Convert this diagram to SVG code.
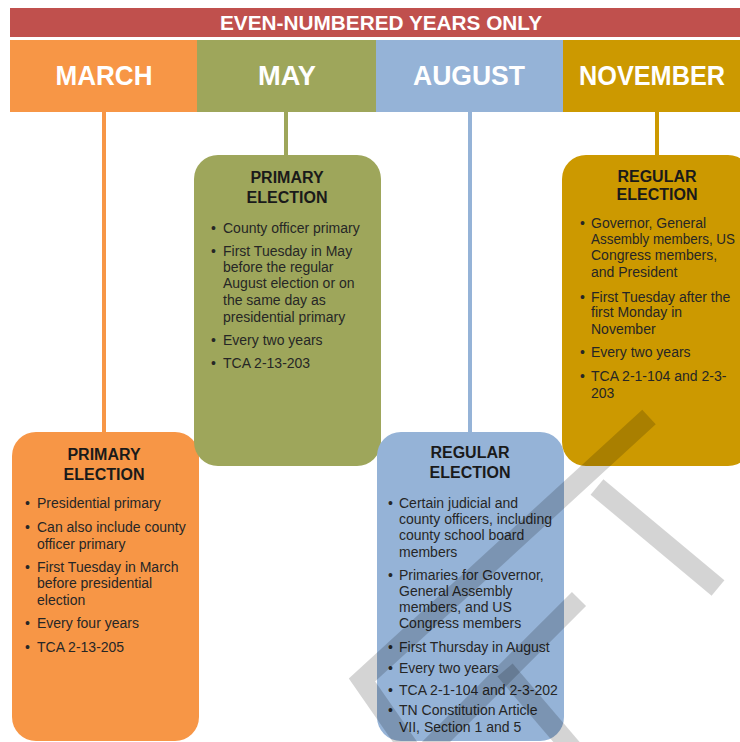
<svg xmlns="http://www.w3.org/2000/svg" width="740" height="742" viewBox="0 0 740 742">
<style>
.mon{font-family:"Liberation Sans",Arial,sans-serif;font-weight:bold;font-size:28px;fill:#fff;text-anchor:middle}
.hdr{font-family:"Liberation Sans",Arial,sans-serif;font-weight:bold;font-size:20px;fill:#fff;text-anchor:middle}
.ttl{font-family:"Liberation Sans",Arial,sans-serif;font-weight:bold;font-size:16px;fill:#1a1a1a;text-anchor:middle}
.txt{font-family:"Liberation Sans",Arial,sans-serif;font-size:14px;fill:#262626}
.conn{stroke-width:4;fill:none}
.wm{fill:none;stroke:#000;stroke-opacity:0.17;stroke-width:20;stroke-linecap:butt;stroke-linejoin:miter}
</style>
<rect width="740" height="742" fill="#fff"/>
<g id="header">
<rect x="10" y="8" width="730" height="29" fill="#c0504d"/>
<text class="hdr" x="381" y="30" textLength="322" lengthAdjust="spacingAndGlyphs">EVEN-NUMBERED YEARS ONLY</text>
</g>
<g id="month-march"><rect x="10" y="40" width="187" height="72" fill="#f79646"/><text class="mon" x="104" y="85" textLength="97" lengthAdjust="spacingAndGlyphs">MARCH</text></g>
<g id="month-may"><rect x="197" y="40" width="179" height="72" fill="#9ea65b"/><text class="mon" x="287" y="85" textLength="58" lengthAdjust="spacingAndGlyphs">MAY</text></g>
<g id="month-august"><rect x="376" y="40" width="187" height="72" fill="#95b3d7"/><text class="mon" x="469" y="85" textLength="112" lengthAdjust="spacingAndGlyphs">AUGUST</text></g>
<g id="month-november"><rect x="563" y="40" width="177" height="72" fill="#cc9900"/><text class="mon" x="652" y="85" font-size="26" textLength="146" lengthAdjust="spacingAndGlyphs">NOVEMBER</text></g>
<g id="connectors">
<line class="conn" x1="104" y1="112" x2="104" y2="433" stroke="#f79646"/>
<line class="conn" x1="286" y1="112" x2="286" y2="156" stroke="#9ea65b"/>
<line class="conn" x1="470" y1="112" x2="470" y2="433" stroke="#95b3d7"/>
<line class="conn" x1="657" y1="112" x2="657" y2="156" stroke="#cc9900"/>
</g>
<g id="march-box">
<rect x="12" y="432" width="187" height="309" rx="24" fill="#f79646"/>
<text class="ttl" x="104" y="460">PRIMARY</text>
<text class="ttl" x="104" y="480">ELECTION</text>
<text class="txt"><tspan x="25" y="508">•</tspan><tspan x="37" y="508">Presidential primary</tspan>
<tspan x="25" y="532">•</tspan><tspan x="37" y="532">Can also include county</tspan><tspan x="37" y="549">officer primary</tspan>
<tspan x="25" y="572">•</tspan><tspan x="37" y="572">First Tuesday in March</tspan><tspan x="37" y="588">before presidential</tspan><tspan x="37" y="605">election</tspan>
<tspan x="25" y="628">•</tspan><tspan x="37" y="628">Every four years</tspan>
<tspan x="25" y="652">•</tspan><tspan x="37" y="652">TCA 2-13-205</tspan></text>
</g>
<g id="may-box">
<rect x="194" y="155" width="187" height="311" rx="24" fill="#9ea65b"/>
<text class="ttl" x="287" y="183">PRIMARY</text>
<text class="ttl" x="287" y="203">ELECTION</text>
<text class="txt"><tspan x="211" y="233">•</tspan><tspan x="223" y="233">County officer primary</tspan>
<tspan x="211" y="256">•</tspan><tspan x="223" y="256">First Tuesday in May</tspan><tspan x="223" y="272">before the regular</tspan><tspan x="223" y="288">August election or on</tspan><tspan x="223" y="305">the same day as</tspan><tspan x="223" y="322">presidential primary</tspan>
<tspan x="211" y="345">•</tspan><tspan x="223" y="345">Every two years</tspan>
<tspan x="211" y="368">•</tspan><tspan x="223" y="368">TCA 2-13-203</tspan></text>
</g>
<g id="august-box">
<rect x="377" y="432" width="187" height="309" rx="24" fill="#95b3d7"/>
<text class="ttl" x="470" y="458">REGULAR</text>
<text class="ttl" x="470" y="478">ELECTION</text>
<text class="txt"><tspan x="388" y="508">•</tspan><tspan x="399" y="508">Certain judicial and</tspan><tspan x="399" y="524">county officers, including</tspan><tspan x="399" y="540">county school board</tspan><tspan x="399" y="557">members</tspan>
<tspan x="388" y="580">•</tspan><tspan x="399" y="580">Primaries for Governor,</tspan><tspan x="399" y="596">General Assembly</tspan><tspan x="399" y="612">members, and US</tspan><tspan x="399" y="628">Congress members</tspan>
<tspan x="388" y="652">•</tspan><tspan x="399" y="652">First Thursday in August</tspan>
<tspan x="388" y="673">•</tspan><tspan x="399" y="673">Every two years</tspan>
<tspan x="388" y="695">•</tspan><tspan x="399" y="695">TCA 2-1-104 and 2-3-202</tspan>
<tspan x="388" y="715">•</tspan><tspan x="399" y="715">TN Constitution Article</tspan><tspan x="399" y="732">VII, Section 1 and 5</tspan></text>
</g>
<g id="november-box">
<rect x="562" y="155" width="190" height="311" rx="24" fill="#cc9900"/>
<text class="ttl" x="657" y="182">REGULAR</text>
<text class="ttl" x="657" y="200">ELECTION</text>
<text class="txt"><tspan x="580" y="228">•</tspan><tspan x="591" y="228">Governor, General</tspan>
<tspan x="580" y="302">•</tspan><tspan x="591" y="302">First Tuesday after the</tspan><tspan x="591" y="317">first Monday in</tspan><tspan x="591" y="334">November</tspan>
<tspan x="580" y="357">•</tspan><tspan x="591" y="357">Every two years</tspan>
<tspan x="580" y="381">•</tspan><tspan x="591" y="381">TCA 2-1-104 and 2-3-</tspan><tspan x="591" y="398">203</tspan></text>
<text class="txt" x="591" y="244" textLength="144" lengthAdjust="spacingAndGlyphs">Assembly members, US</text>
<text class="txt" x="591" y="260">Congress members,</text>
<text class="txt" x="591" y="277">and President</text>
</g>
<g id="watermark">
<polyline class="wm" points="649,417 362,680 412,752"/>
<line class="wm" x1="597" y1="487" x2="718" y2="588"/>
<line class="wm" x1="579" y1="599" x2="425" y2="753"/>
<line class="wm" x1="505" y1="670" x2="575" y2="752"/>
</g>
</svg>
